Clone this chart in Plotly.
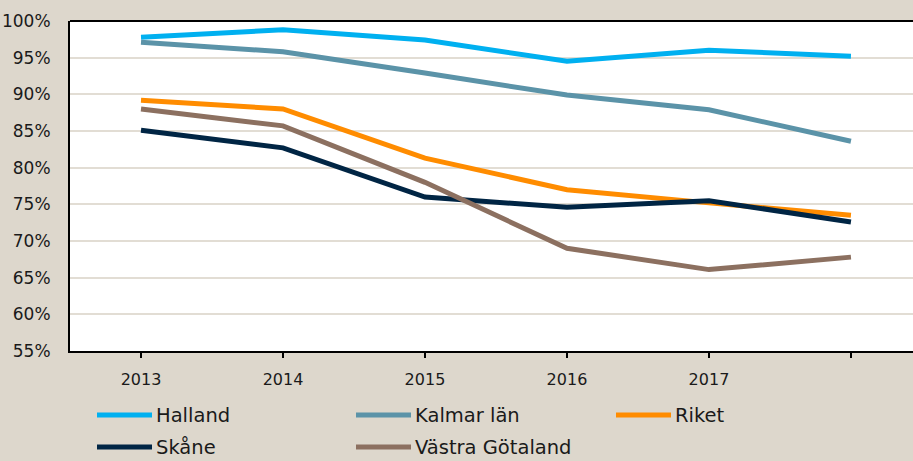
import plotly.graph_objects as go

years = ["2013", "2014", "2015", "2016", "2017", ""]
x_idx = [0, 1, 2, 3, 4, 5]

series_names = ["Halland", "Kalmar län", "Riket", "Skåne", "Västra Götaland"]
halland = [0.978, 0.988, 0.974, 0.945, 0.960, 0.952]
kalmar = [0.971, 0.958, 0.929, 0.899, 0.879, 0.836]
riket = [0.892, 0.880, 0.813, 0.770, 0.752, 0.735]
skane = [0.851, 0.827, 0.760, 0.746, 0.755, 0.726]
vastra = [0.880, 0.857, 0.780, 0.690, 0.661, 0.678]
values = [halland, kalmar, riket, skane, vastra]
colors = ["#00b0f0", "#5b93a8", "#ff8c00", "#002544", "#8c7060"]

y_ticks = [0.55, 0.60, 0.65, 0.70, 0.75, 0.80, 0.85, 0.90, 0.95, 1.00]

FONT = "DejaVu Sans"
BG = "#ddd7cc"

fig = go.Figure()
for name, vals, col in zip(series_names, values, colors):
    fig.add_trace(go.Scatter(
        x=x_idx, y=vals, mode="lines", name=name,
        line=dict(color=col, width=5),
        showlegend=False,
    ))

# custom legend (3 columns, 2 rows)
leg_x = [97, 356, 616]
leg_y = [415, 447]
W, H = 913, 461
ml, mt, mb, mr = 70, 21, 110, 0
pw, ph = W - ml - mr, H - mt - mb
shapes = []
annotations = []
for i, (name, col) in enumerate(zip(series_names, colors)):
    r, c = divmod(i, 3)
    x0 = leg_x[c]
    y = leg_y[r]
    px0 = (x0 - ml) / pw
    px1 = (x0 + 55 - ml) / pw
    py = (H - mb - y) / ph
    shapes.append(dict(type="line", xref="paper", yref="paper",
                       x0=px0, x1=px1, y0=py, y1=py,
                       line=dict(color=col, width=5)))
    annotations.append(dict(xref="paper", yref="paper",
                            x=(x0 + 57 - ml) / pw, y=py,
                            xanchor="left", yanchor="middle",
                            text=name, showarrow=False,
                            font=dict(family=FONT, size=19.5, color="#1a1a1a")))

# top border
shapes.append(dict(type="line", xref="paper", yref="paper", x0=0, x1=1, y0=1, y1=1,
                   line=dict(color="black", width=2)))

fig.update_layout(
    width=W, height=H,
    margin=dict(l=ml, r=mr, t=mt, b=mb),
    paper_bgcolor=BG, plot_bgcolor="white",
    font=dict(family=FONT, size=17, color="#1a1a1a"),
    shapes=shapes, annotations=annotations,
    xaxis=dict(
        range=[-0.5, 5.437],
        tickmode="array", tickvals=x_idx, ticktext=years,
        showgrid=False, zeroline=False,
        showline=True, linecolor="black", linewidth=2,
        ticks="outside", ticklen=5, tickcolor="black", tickwidth=1.5,
        ticklabelstandoff=8,
        tickfont=dict(family=FONT, size=16, color="#1a1a1a"),
    ),
    yaxis=dict(
        range=[0.55, 1.0],
        tickmode="array", tickvals=y_ticks,
        tickformat=".0%",
        showgrid=True, gridcolor="#e2ddd4", gridwidth=1.5,
        zeroline=False,
        showline=True, linecolor="black", linewidth=2,
        ticks="", ticklabelstandoff=14,
        tickfont=dict(family=FONT, size=17, color="#1a1a1a"),
    ),
)

fig.write_html("out.html", config={"displayModeBar": False},
               post_script="document.body.style.margin='0';document.body.style.padding='0';")
